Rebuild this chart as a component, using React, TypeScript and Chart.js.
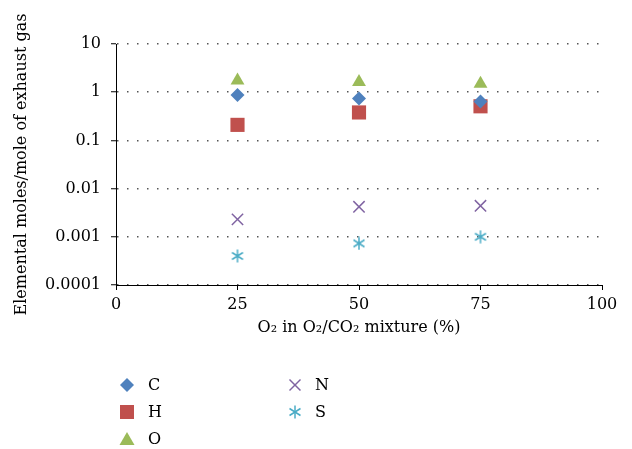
import React, { useEffect, useRef } from "react";
import { Chart, registerables } from "chart.js";

Chart.register(...registerables);

const xValues = [25, 50, 75];
const seriesC = [0.87, 0.74, 0.64];
const seriesH = [0.21, 0.38, 0.51];
const seriesO = [1.75, 1.62, 1.5];
const seriesN = [0.0023, 0.0042, 0.0044];
const seriesS = [0.0004, 0.00073, 0.001];
const yTickValues = [10, 1, 0.1, 0.01, 0.001, 0.0001];
const yTickLabels = ["10", "1", "0.1", "0.01", "0.001", "0.0001"];
const xTickValues = [0, 25, 50, 75, 100];

const COLORS = {
  C: "#4F81BD",
  H: "#C0504D",
  O: "#9BBB59",
  N: "#8064A2",
  S: "#4BACC6",
};

const FONT = "'DejaVu Serif', 'Liberation Serif', serif";
const FS = 16;

function makeAsterisk(color: string): HTMLCanvasElement {
  const c = document.createElement("canvas");
  c.width = 14;
  c.height = 14;
  const ctx = c.getContext("2d")!;
  ctx.strokeStyle = color;
  ctx.lineWidth = 1.5;
  ctx.beginPath();
  ctx.moveTo(7, 0.5);
  ctx.lineTo(7, 13.5);
  ctx.moveTo(1.5, 3.5);
  ctx.lineTo(12.5, 10.5);
  ctx.moveTo(1.5, 10.5);
  ctx.lineTo(12.5, 3.5);
  ctx.stroke();
  return c;
}

function pts(ys: number[]) {
  return xValues.map((x, i) => ({ x, y: ys[i] }));
}

const legendText: React.CSSProperties = {
  position: "absolute",
  fontFamily: FONT,
  fontSize: FS,
  color: "#000",
  lineHeight: "20px",
};

export default function App() {
  const ref = useRef<HTMLCanvasElement | null>(null);

  useEffect(() => {
    if (!ref.current) return;
    const star = makeAsterisk(COLORS.S);
    const chart = new Chart(ref.current, {
      type: "scatter",
      data: {
        datasets: [
          {
            label: "C",
            data: pts(seriesC),
            pointStyle: "rectRot",
            pointRadius: 7,
            backgroundColor: COLORS.C,
            borderColor: COLORS.C,
            borderWidth: 0,
          },
          {
            label: "H",
            data: pts(seriesH),
            pointStyle: "rect",
            pointRadius: 10,
            backgroundColor: COLORS.H,
            borderColor: COLORS.H,
            borderWidth: 0,
          },
          {
            label: "O",
            data: pts(seriesO),
            pointStyle: "triangle",
            pointRadius: 8,
            backgroundColor: COLORS.O,
            borderColor: COLORS.O,
            borderWidth: 0,
          },
          {
            label: "N",
            data: pts(seriesN),
            pointStyle: "crossRot",
            pointRadius: 8,
            backgroundColor: COLORS.N,
            borderColor: COLORS.N,
            borderWidth: 1.5,
          },
          {
            label: "S",
            data: pts(seriesS),
            pointStyle: star,
            pointRadius: 7,
            backgroundColor: COLORS.S,
            borderColor: COLORS.S,
            borderWidth: 1.5,
          },
        ],
      },
      options: {
        responsive: false,
        animation: false,
        layout: { padding: { left: 0, top: 44, right: 30, bottom: 104 } },
        plugins: {
          legend: { display: false },
          tooltip: { enabled: false },
        },
        scales: {
          x: {
            type: "linear",
            min: 0,
            max: 100,
            afterBuildTicks: (scale: any) => {
              scale.ticks = xTickValues.map((v) => ({ value: v }));
            },
            afterFit: (scale: any) => {
              scale.height = 60;
            },
            grid: {
              drawOnChartArea: false,
              drawTicks: true,
              tickLength: 5,
              tickColor: "#000",
            },
            border: { display: true, color: "#000", width: 1 },
            ticks: {
              color: "#000",
              padding: 5,
              font: { family: FONT, size: FS },
              maxRotation: 0,
            },
            title: {
              display: true,
              text: "O₂ in O₂/CO₂ mixture (%)",
              color: "#000",
              font: { family: FONT, size: FS },
              padding: { top: 0, bottom: 8 },
            },
          },
          y: {
            type: "logarithmic",
            min: 0.0001,
            max: 10,
            afterBuildTicks: (scale: any) => {
              scale.ticks = yTickValues.map((v) => ({ value: v }));
            },
            afterFit: (scale: any) => {
              scale.width = 116;
            },
            grid: {
              color: "#555",
              lineWidth: 1.5,
              drawTicks: true,
              tickLength: 5,
              tickColor: "#000",
              tickBorderDash: [],
              tickWidth: 1,
            } as any,
            border: {
              display: true,
              color: "#000",
              width: 1,
              dash: [1.5, 8.5],
              dashOffset: -10,
            },
            ticks: {
              color: "#000",
              padding: 10,
              font: { family: FONT, size: FS },
              callback: (value: any) => {
                const idx = yTickValues.findIndex(
                  (v) => Math.abs(v - Number(value)) / v < 1e-6
                );
                return idx >= 0 ? yTickLabels[idx] : "";
              },
            },
            title: {
              display: true,
              text: "Elemental moles/mole of exhaust gas",
              color: "#000",
              font: { family: FONT, size: FS },
              padding: { top: 12, bottom: 0 },
            },
          },
        },
      },
    } as any);
    return () => chart.destroy();
  }, []);

  return (
    <div
      style={{
        position: "absolute",
        left: 0,
        top: 0,
        width: 632,
        height: 449,
        background: "#fff",
        overflow: "hidden",
      }}
    >
      <canvas ref={ref} width={632} height={449} style={{ display: "block" }} />
      <svg
        width={632}
        height={449}
        style={{ position: "absolute", left: 0, top: 0, pointerEvents: "none" }}
      >
        <polygon points="127,378 134,385 127,392 120,385" fill={COLORS.C} />
        <rect x={120} y={405} width={14} height={14} fill={COLORS.H} />
        <polygon points="127,432 134.5,445 119.5,445" fill={COLORS.O} />
        <g stroke={COLORS.N} strokeWidth={1.5}>
          <line x1={289.5} y1={379.5} x2={300.5} y2={390.5} />
          <line x1={289.5} y1={390.5} x2={300.5} y2={379.5} />
        </g>
        <g stroke={COLORS.S} strokeWidth={1.5}>
          <line x1={295} y1={405.5} x2={295} y2={418.5} />
          <line x1={289.5} y1={408.5} x2={300.5} y2={415.5} />
          <line x1={289.5} y1={415.5} x2={300.5} y2={408.5} />
        </g>
      </svg>
      <div style={{ ...legendText, left: 148, top: 375 }}>C</div>
      <div style={{ ...legendText, left: 148, top: 402 }}>H</div>
      <div style={{ ...legendText, left: 148, top: 429 }}>O</div>
      <div style={{ ...legendText, left: 315, top: 375 }}>N</div>
      <div style={{ ...legendText, left: 315, top: 402 }}>S</div>
    </div>
  );
}
